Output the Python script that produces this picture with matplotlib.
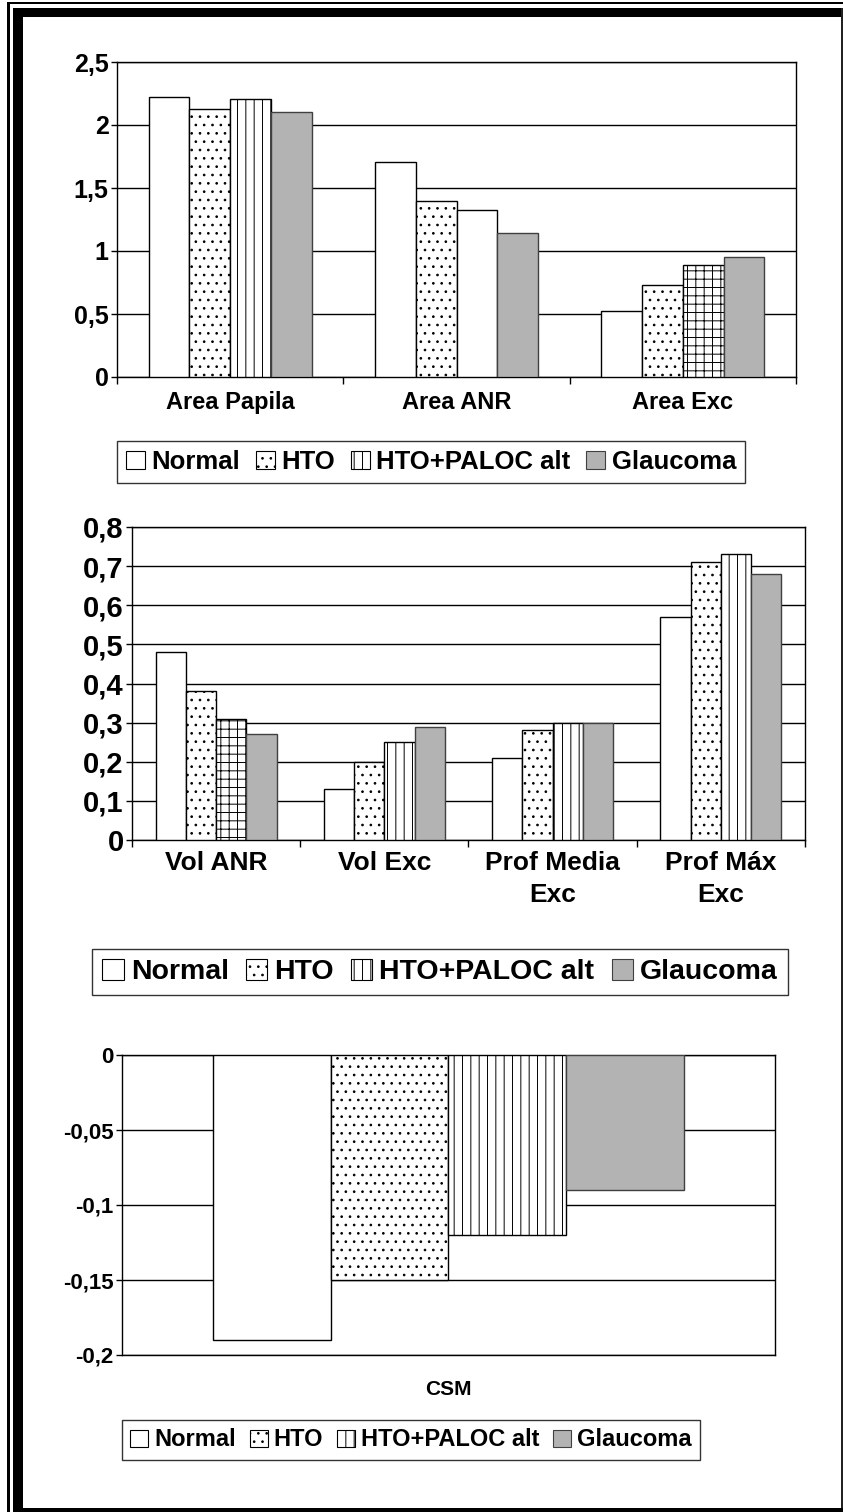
import matplotlib
matplotlib.use("Agg")
import matplotlib.pyplot as plt
import matplotlib.patches as mpatches
from matplotlib.ticker import FuncFormatter, FixedLocator
import numpy as np

plt.rcParams["font.family"] = ["Liberation Sans", "DejaVu Sans"]
plt.rcParams["font.weight"] = "bold"
plt.rcParams["hatch.linewidth"] = 0.7

# ── datos ─────────────────────────────────────────────
series = ["Normal", "HTO", "HTO+PALOC alt", "Glaucoma"]

cats1 = ["Area Papila", "Area ANR", "Area Exc"]
normal1 = [2.22, 1.71, 0.52]
hto1 = [2.13, 1.40, 0.73]
paloc1 = [2.21, 1.325, 0.89]
glauc1 = [2.10, 1.14, 0.95]

cats2 = ["Vol ANR", "Vol Exc", "Prof Media\nExc", "Prof Máx\nExc"]
normal2 = [0.48, 0.13, 0.21, 0.57]
hto2 = [0.38, 0.20, 0.28, 0.71]
paloc2 = [0.31, 0.25, 0.30, 0.73]
glauc2 = [0.27, 0.29, 0.30, 0.68]

cats3 = ["CSM"]
normal3 = [-0.19]
hto3 = [-0.15]
paloc3 = [-0.12]
glauc3 = [-0.09]

# ── estilos ───────────────────────────────────────────
FILL = ["white", "white", "white", "#b3b3b3"]
EDGE = ["black", "black", "black", "#404040"]
HATCH = ["", "..", "||", ""]

W, H = 843, 1512
fig = plt.figure(figsize=(W / 100, H / 100), dpi=100)


def rect(l, r, t, b):
    return [l / W, 1 - b / H, (r - l) / W, (b - t) / H]


def fmt(v, pos):
    v = round(v, 4)
    if v == 0:
        return "0"
    return f"{v:g}".replace(".", ",")


def chart(box, cats, vals, paloc_hatch, ylim, yticks, tick_fs, cat_fs, cat_pad,
          labels_bottom=True, linespacing=1.2):
    ax = fig.add_axes(rect(*box))
    n = len(cats)
    x = np.arange(n)
    w = 0.18
    for i, v in enumerate(vals):
        hatches = paloc_hatch if i == 2 else [HATCH[i]] * n
        bars = ax.bar(x + (i - 1.5) * w, v, w, color=FILL[i], edgecolor=EDGE[i],
                      linewidth=1.0, zorder=3)
        for b, h in zip(bars, hatches):
            b.set_hatch(h)
    ax.set_xlim(-0.5, n - 0.5)
    ax.set_ylim(*ylim)
    ax.set_yticks(yticks)
    ax.yaxis.set_major_formatter(FuncFormatter(fmt))
    ax.grid(axis="y", color="black", linewidth=1.0, zorder=0)
    for s in ax.spines.values():
        s.set_color("black")
        s.set_linewidth(1.0)
    ax.tick_params(axis="y", length=4, width=1, labelsize=tick_fs, pad=2)
    ax.set_xticks(x)
    ax.set_xticklabels(cats, fontsize=cat_fs, fontweight="bold", linespacing=linespacing)
    ax.tick_params(axis="x", which="major", length=0, pad=cat_pad)
    if labels_bottom:
        ax.xaxis.set_minor_locator(FixedLocator(np.arange(n + 1) - 0.5))
        ax.tick_params(axis="x", which="minor", length=5, width=1)
    for lab in ax.get_yticklabels():
        lab.set_fontweight("bold")
    return ax


def legend(cx, cy, fs):
    handles = [mpatches.Patch(facecolor=FILL[i], edgecolor=EDGE[i],
                              hatch=HATCH[i], linewidth=0.8,
                              label=series[i]) for i in range(4)]
    lg = fig.legend(handles=handles, loc="center", bbox_to_anchor=(cx / W, 1 - cy / H),
                    ncol=4, fontsize=fs, frameon=True, fancybox=False, edgecolor="black",
                    handlelength=0.75, handleheight=0.75, handletextpad=0.25,
                    columnspacing=0.6, borderpad=0.35, borderaxespad=0)
    lg.get_frame().set_linewidth(1.0)
    for t in lg.get_texts():
        t.set_fontweight("bold")


# ── gráfico 1 ─────────────────────────────────────────
chart((117, 796, 62, 377), cats1, [normal1, hto1, paloc1, glauc1],
      ["||", "", "++"], (0, 2.5), np.arange(0, 2.51, 0.5), 18, 17, 10)
legend(431, 462, 18.5)

# ── gráfico 2 ─────────────────────────────────────────
chart((132, 805, 527, 840), cats2, [normal2, hto2, paloc2, glauc2],
      ["++", "||", "||", "||"], (0, 0.8), np.arange(0, 0.81, 0.1), 21, 19, 8,
      linespacing=1.4)
legend(440, 972, 20.5)

# ── gráfico 3 ─────────────────────────────────────────
chart((122, 775, 1055, 1355), cats3, [normal3, hto3, paloc3, glauc3],
      ["||"], (-0.2, 0), np.arange(-0.2, 0.001, 0.05), 16, 15, 18,
      labels_bottom=False)
legend(411, 1440, 17)

# ── marco de página ───────────────────────────────────
def frame(l, r, t, b, c="black"):
    fig.patches.append(mpatches.Rectangle((l / W, 1 - b / H), (r - l) / W, (b - t) / H,
                                          transform=fig.transFigure, color=c,
                                          linewidth=0, zorder=10))

frame(7, 10, 2, 1512)       # línea fina izquierda
frame(7, 843, 2, 4)         # línea fina superior
frame(13, 23, 8, 1512)      # banda gruesa izquierda
frame(13, 843, 8, 17)       # banda gruesa superior
frame(841, 843, 8, 1512, "#222222")
frame(13, 843, 1508, 1512)  # banda inferior

fig.savefig("out.png", dpi=100)
